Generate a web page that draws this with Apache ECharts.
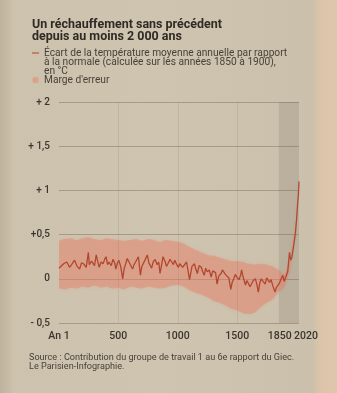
<!DOCTYPE html>
<html lang="fr">
<head>
<meta charset="utf-8">
<title>Un réchauffement sans précédent</title>
<script src="https://cdn.jsdelivr.net/npm/echarts@6/dist/echarts.min.js"></script>
<style>
  html, body { margin: 0; padding: 0; }
  body {
    width: 337px; height: 393px; overflow: hidden;
    background: linear-gradient(90deg, #bfb29c 0px, #cdc2ae 14px, #cfc4b0 160px, #cbc0ab 312px, #dcc4aa 320px, #dfc6ab 337px);
  }
  #chart { width: 337px; height: 393px; }
</style>
</head>
<body>
<div id="chart"></div>
<script>
// Temperature anomaly vs. 1850-1900 average (°C), sampled years
const years = [1, 17, 40, 66, 90, 107, 132, 150, 174, 190, 207, 230, 248, 256, 275, 289, 300, 314, 339, 355,
  372, 385, 397, 410, 421, 440, 455, 470, 479, 490, 504, 520, 537, 550, 562, 575, 587, 605, 620, 632,
  645, 669, 686, 698, 711, 727, 744, 757, 769, 780, 793, 810, 826, 840, 851, 863, 876, 895, 905, 917,
  935, 950, 963, 975, 992, 1005, 1017, 1030, 1041, 1055, 1074, 1099, 1120, 1140, 1152, 1165, 1180, 1198, 1210, 1223,
  1235, 1248, 1265, 1281, 1295, 1306, 1318, 1331, 1345, 1364, 1376, 1388, 1400, 1413, 1430, 1446, 1458, 1471, 1484, 1496,
  1515, 1529, 1537, 1550, 1570, 1582, 1595, 1608, 1620, 1635, 1653, 1665, 1678, 1690, 1702, 1718, 1736, 1748, 1760, 1772,
  1785, 1800, 1818, 1830, 1843, 1855, 1870, 1884, 1895, 1910, 1925, 1940, 1950, 1960, 1970, 1980, 1990, 2000, 2010, 2015, 2020];
const anomaly = [0.12, 0.10, 0.17, 0.19, 0.13, 0.16, 0.21, 0.15, 0.11, 0.18, 0.17, 0.13, 0.30, 0.16, 0.20, 0.22, 0.15, 0.27, 0.13, 0.19,
  0.17, 0.22, 0.25, 0.16, 0.19, 0.15, 0.22, 0.18, 0.11, 0.17, 0.21, 0.14, 0.00, 0.12, 0.17, 0.23, 0.21, 0.15, 0.11, 0.16,
  0.19, 0.25, 0.04, 0.14, 0.16, 0.22, 0.27, 0.18, 0.16, 0.12, 0.19, 0.22, 0.16, 0.19, 0.06, 0.15, 0.25, 0.19, 0.14, 0.17,
  0.22, 0.19, 0.16, 0.21, 0.16, 0.13, 0.17, 0.19, 0.13, 0.15, 0.19, -0.01, 0.14, 0.17, 0.11, 0.06, 0.15, 0.13, 0.08, 0.04,
  0.12, 0.08, 0.10, 0.02, 0.09, 0.11, 0.07, -0.06, 0.03, 0.06, 0.10, 0.08, 0.05, 0.06, 0.01, -0.12, -0.04, 0.00, 0.05, 0.02,
  -0.01, 0.04, 0.10, 0.02, -0.07, -0.02, -0.03, -0.09, -0.07, -0.02, 0.00, -0.06, -0.15, -0.05, 0.00, -0.03, -0.06, 0.01, 0.02, -0.04,
  -0.01, -0.08, -0.15, -0.10, -0.09, -0.05, 0.00, 0.04, -0.03, -0.04, 0.08, 0.30, 0.21, 0.24, 0.26, 0.42, 0.52, 0.68, 0.88, 0.95, 1.10];

// Error margin (lower / upper bound, °C)
const bandYears = [1, 50, 100, 150, 200, 250, 300, 350, 400, 450, 500, 550, 600, 650, 700, 750, 800, 850, 900, 950,
  1000, 1050, 1100, 1150, 1200, 1250, 1300, 1350, 1400, 1450, 1500, 1550, 1600, 1650, 1700, 1750, 1800, 1850, 1900, 1950, 2000, 2020];
const bandHigh = [0.43, 0.45, 0.46, 0.44, 0.46, 0.47, 0.45, 0.44, 0.46, 0.45, 0.44, 0.43, 0.44, 0.45, 0.43, 0.45, 0.44, 0.42, 0.44, 0.43,
  0.42, 0.40, 0.36, 0.33, 0.30, 0.27, 0.26, 0.24, 0.22, 0.20, 0.20, 0.19, 0.17, 0.16, 0.17, 0.16, 0.14, 0.10, 0.05, 0.28, 0.72, 1.12];
const bandLow = [-0.10, -0.12, -0.10, -0.11, -0.09, -0.10, -0.08, -0.10, -0.09, -0.11, -0.10, -0.12, -0.09, -0.10, -0.11, -0.09, -0.10, -0.11, -0.10, -0.08,
  -0.07, -0.09, -0.13, -0.16, -0.18, -0.21, -0.25, -0.27, -0.30, -0.34, -0.36, -0.39, -0.40, -0.38, -0.32, -0.27, -0.23, -0.15, -0.09, 0.14, 0.64, 1.06];

// Axis ticks
const xTickValues = [1, 500, 1000, 1500, 1850, 2020];
const xTickLabels = ['An 1', '500', '1000', '1500', '1850', '2020'];
const yTickValues = [-0.5, 0, 0.5, 1, 1.5, 2];
const yTickLabels = ['- 0,5', '0', '+0,5', '+ 1', '+ 1,5', '+ 2'];

// Period shaded in grey (instrumental era)
const recentPeriod = [1850, 2020];

const ink = '#3a352e';
const textFont = 'Roboto, "Noto Sans", sans-serif';

// Headline is set in a condensed cut: squeeze the bold face horizontally
const titleFont = 'bold 13.5px Roboto, "Noto Sans", sans-serif';
const titleLines = ['Un réchauffement sans précédent', 'depuis au moins 2 000 ans'];
const measureCtx = document.createElement('canvas').getContext('2d');
measureCtx.font = titleFont;
const titleScale = 190 / measureCtx.measureText(titleLines[0]).width;

const chart = echarts.init(document.getElementById('chart'), null, { renderer: 'canvas' });

const lineData = years.map((y, i) => [y, anomaly[i]]);

function renderBand(params, api) {
  if (params.dataIndex !== 0) return null;
  const upper = bandYears.map((y, i) => api.coord([y, bandHigh[i]]));
  const lower = bandYears.map((y, i) => api.coord([y, bandLow[i]])).reverse();
  return {
    type: 'polygon',
    shape: { points: upper.concat(lower), smooth: 0.15 },
    style: { fill: 'rgba(232,122,96,0.38)', shadowBlur: 3, shadowColor: 'rgba(232,122,96,0.45)' },
    silent: true
  };
}

const legendText = (x, y, text) => ({
  type: 'text', x, y,
  style: { text, font: '10.2px ' + textFont, fill: '#48423a', verticalAlign: 'middle' }
});
const sourceText = (x, y, text) => ({
  type: 'text', x, y,
  style: { text, font: '9.1px ' + textFont, fill: '#48423a', verticalAlign: 'middle' }
});

chart.setOption({
  backgroundColor: 'transparent',
  animation: false,
  graphic: [
    { type: 'text', x: 32, y: 25, scaleX: titleScale, style: { text: titleLines[0], font: titleFont, fill: '#2f2a24', verticalAlign: 'middle' } },
    { type: 'text', x: 32, y: 37, scaleX: titleScale, style: { text: titleLines[1], font: titleFont, fill: '#2f2a24', verticalAlign: 'middle' } },
    { type: 'line', shape: { x1: 32, y1: 53, x2: 39, y2: 53 }, style: { stroke: '#c0553c', lineWidth: 1.2 } },
    { type: 'circle', shape: { cx: 35.5, cy: 80, r: 3.2 }, style: { fill: 'rgba(226,150,128,0.75)' } },
    legendText(44, 53, 'Écart de la température moyenne annuelle par rapport'),
    legendText(44, 62, 'à la normale (calculée sur les années 1850 à 1900),'),
    legendText(44, 71, 'en °C'),
    legendText(44, 80, "Marge d'erreur"),
    sourceText(29, 358, 'Source : Contribution du groupe de travail 1 au 6e rapport du Giec.'),
    sourceText(29, 367, 'Le Parisien-Infographie.')
  ],
  grid: { left: 59, right: 38, top: 102, bottom: 70, containLabel: false },
  xAxis: {
    type: 'value', min: 1, max: 2020,
    axisLine: { show: false }, axisTick: { show: false }, splitLine: { show: false },
    axisLabel: {
      customValues: xTickValues,
      margin: 8,
      fontFamily: textFont, fontSize: 10.5, fontWeight: 500, color: ink,
      formatter: v => {
        const lab = xTickLabels[xTickValues.indexOf(v)];
        if (v === 2020) return '{r|' + lab + '}';
        if (v === 1850) return '{l|' + lab + '}';
        return lab;
      },
      rich: {
        r: { padding: [0, 0, 0, 14], fontFamily: textFont, fontSize: 10.5, fontWeight: 500, color: ink },
        l: { padding: [0, 0, 0, 2], fontFamily: textFont, fontSize: 10.5, fontWeight: 500, color: ink }
      }
    }
  },
  yAxis: {
    type: 'value', min: -0.5, max: 2, interval: 0.5,
    axisLine: { show: false }, axisTick: { show: false },
    splitLine: { show: true, lineStyle: { color: 'rgba(105,95,80,0.40)', width: 1 } },
    axisLabel: {
      margin: 9, fontFamily: textFont, fontSize: 10, fontWeight: 500, color: ink,
      formatter: v => {
        const i = yTickValues.findIndex(t => Math.abs(t - v) < 1e-6);
        return i >= 0 ? yTickLabels[i] : '';
      }
    }
  },
  series: [
    {
      name: "Marge d'erreur", type: 'custom', renderItem: renderBand,
      data: [[bandYears[0], bandLow[0]]], clip: true, silent: true, z: 3,
      markArea: {
        silent: true,
        itemStyle: { color: 'rgba(105,98,88,0.18)' },
        data: [[{ xAxis: recentPeriod[0] }, { xAxis: recentPeriod[1] }]]
      },
      markLine: {
        silent: true, symbol: 'none', label: { show: false },
        lineStyle: { color: 'rgba(110,100,85,0.14)', width: 1, type: 'solid' },
        data: [{ xAxis: 500 }, { xAxis: 1000 }, { xAxis: 1500 }]
      }
    },
    {
      name: 'Écart de température', type: 'line', data: lineData,
      symbol: 'none', z: 5,
      lineStyle: { color: '#b24730', width: 1.3 }
    }
  ]
});
</script>
</body>
</html>
